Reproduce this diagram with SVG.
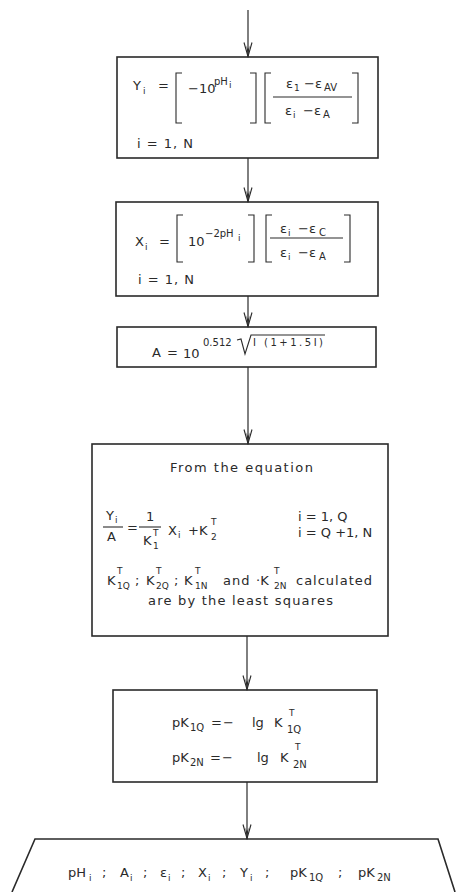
<svg xmlns="http://www.w3.org/2000/svg" width="460" height="892" viewBox="0 0 460 892">
<defs>
<marker id="ah" viewBox="0 0 16 10" refX="15.5" refY="5" markerWidth="16" markerHeight="10" orient="auto" markerUnits="userSpaceOnUse">
<path d="M1,1 L15,5 L1,9" fill="none" stroke="#2a2a2a" stroke-width="1.1"/>
<path d="M4,3.3 L15.5,5 L4,6.7 L8,5 Z" fill="#2a2a2a"/>
</marker>
</defs>
<style>
.box{fill:none;stroke:#2a2a2a;stroke-width:1.6}
.br{fill:none;stroke:#2a2a2a;stroke-width:1.1}
.ln{fill:none;stroke:#2a2a2a;stroke-width:1.1}
.edge{fill:none;stroke:#2a2a2a;stroke-width:1.2}
text{font-family:"DejaVu Sans","Liberation Sans",sans-serif;fill:#2a2a2a;font-size:13px}
.s{font-size:10px}
.ss{font-size:9px}
.l{letter-spacing:1px}
</style>
<rect width="460" height="892" fill="#ffffff"/>

<g id="connectors">
<line class="edge" x1="248" y1="10" x2="248" y2="57" marker-end="url(#ah)"/>
<line class="edge" x1="248" y1="158" x2="248" y2="202" marker-end="url(#ah)"/>
<line class="edge" x1="248" y1="296" x2="248" y2="327" marker-end="url(#ah)"/>
<line class="edge" x1="248" y1="367" x2="248" y2="444" marker-end="url(#ah)"/>
<line class="edge" x1="247" y1="636" x2="247" y2="690" marker-end="url(#ah)"/>
<line class="edge" x1="247" y1="782" x2="247" y2="839" marker-end="url(#ah)"/>
</g>

<g id="node-y">
<rect class="box" x="117" y="57" width="261" height="101"/>
<text x="133" y="90">Y</text><text class="ss" x="143" y="94">i</text>
<text x="158" y="90">=</text>
<path class="br" d="M182,73 H176 V123 H182"/>
<text x="188" y="93" font-size="12">−10</text>
<text class="s" x="214" y="85">pH</text><text class="ss" x="229" y="88">i</text>
<path class="br" d="M250,73 H256 V123 H250"/>
<path class="br" d="M271,73 H265 V123 H271"/>
<text x="286" y="88">ε</text><text class="ss" x="294" y="91">1</text>
<text x="304" y="88">−ε</text><text class="s" x="324" y="91">AV</text>
<line class="ln" x1="273" y1="97" x2="352" y2="97"/>
<text x="285" y="115">ε</text><text class="ss" x="293" y="118">i</text>
<text x="303" y="115">−ε</text><text class="s" x="323" y="118">A</text>
<path class="br" d="M352,73 H358 V123 H352"/>
<text x="137" y="148" class="l">i = 1, N</text>
</g>

<g id="node-x">
<rect class="box" x="116" y="202" width="262" height="94"/>
<text x="135" y="246">X</text><text class="ss" x="145" y="250">i</text>
<text x="159" y="246">=</text>
<path class="br" d="M183,215 H177 V262 H183"/>
<text x="188" y="246" font-size="12">10</text>
<text class="s" x="205" y="237">−2pH</text><text class="ss" x="238" y="241">i</text>
<path class="br" d="M248,215 H254 V262 H248"/>
<path class="br" d="M272,215 H266 V262 H272"/>
<text x="280" y="233">ε</text><text class="ss" x="288" y="236">i</text>
<text x="298" y="233">−ε</text><text class="s" x="319" y="236">C</text>
<line class="ln" x1="270" y1="238" x2="343" y2="238"/>
<text x="280" y="257">ε</text><text class="ss" x="288" y="260">i</text>
<text x="298" y="257">−ε</text><text class="s" x="319" y="260">A</text>
<path class="br" d="M344,215 H350 V262 H344"/>
<text x="138" y="284" class="l">i = 1, N</text>
</g>

<g id="node-a">
<rect class="box" x="117" y="327" width="259" height="40"/>
<text x="152" y="357">A</text>
<text x="167" y="357">=</text>
<text x="183" y="358" font-size="12">10</text>
<text class="s" x="203" y="346">0.512</text>
<path class="br" d="M237,340 L241,339 L245,354 L251,335 H325"/>
<text class="s" x="253" y="346" textLength="70" lengthAdjust="spacing">I (1+1.5I)</text>
</g>

<g id="node-eq">
<rect class="box" x="92" y="444" width="296" height="192"/>
<text x="170" y="472" textLength="143" lengthAdjust="spacing">From the equation</text>
<text x="106" y="520">Y</text><text class="ss" x="115" y="523">i</text>
<line class="ln" x1="103" y1="527" x2="123" y2="527"/>
<text x="107" y="541">A</text>
<text x="127" y="532">=</text>
<text x="146" y="521">1</text>
<line class="ln" x1="139" y1="527" x2="161" y2="527"/>
<text x="143" y="545">K</text><text class="ss" x="153" y="536">T</text><text class="ss" x="153" y="549">1</text>
<text x="168" y="535">X</text><text class="ss" x="178" y="538">i</text>
<text x="188" y="535">+K</text><text class="ss" x="211" y="525">T</text><text class="ss" x="211" y="540">2</text>
<text x="298" y="521">i = 1, Q</text>
<text x="298" y="537">i = Q +1, N</text>
<text x="107" y="585">K</text><text class="ss" x="117" y="574">T</text><text class="ss" x="117" y="589">1Q</text>
<text x="135" y="585">;</text>
<text x="146" y="585">K</text><text class="ss" x="156" y="574">T</text><text class="ss" x="156" y="589">2Q</text>
<text x="174" y="585">;</text>
<text x="184" y="585">K</text><text class="ss" x="195" y="574">T</text><text class="ss" x="195" y="589">1N</text>
<text x="223" y="585" class="l">and</text>
<text x="256" y="585">·K</text><text class="ss" x="274" y="574">T</text><text class="ss" x="274" y="589">2N</text>
<text x="296" y="585" textLength="76" lengthAdjust="spacing">calculated</text>
<text x="148" y="605" textLength="185" lengthAdjust="spacing">are by the least squares</text>
</g>

<g id="node-pk">
<rect class="box" x="113" y="690" width="264" height="92"/>
<text x="172" y="727">pK</text><text class="s" x="190" y="731">1Q</text>
<text x="211" y="727" class="l">=−</text>
<text x="252" y="727">lg</text>
<text x="274" y="727">K</text><text class="ss" x="289" y="716">T</text><text class="s" x="287" y="733">1Q</text>
<text x="172" y="762">pK</text><text class="s" x="190" y="766">2N</text>
<text x="210" y="762" class="l">=−</text>
<text x="257" y="762">lg</text>
<text x="280" y="762">K</text><text class="ss" x="295" y="750">T</text><text class="s" x="293" y="768">2N</text>
</g>

<g id="node-out">
<path class="box" d="M12,892 L35,839 H438 L455,892"/>
<text x="68" y="877">pH</text><text class="ss" x="89" y="881">i</text>
<text x="102" y="877">;</text>
<text x="120" y="877">A</text><text class="ss" x="130" y="881">i</text>
<text x="143" y="877">;</text>
<text x="160" y="877">ε</text><text class="ss" x="168" y="881">i</text>
<text x="181" y="877">;</text>
<text x="198" y="877">X</text><text class="ss" x="208" y="881">i</text>
<text x="222" y="877">;</text>
<text x="240" y="877">Y</text><text class="ss" x="250" y="881">i</text>
<text x="265" y="877">;</text>
<text x="290" y="877">pK</text><text class="s" x="309" y="881">1Q</text>
<text x="338" y="877">;</text>
<text x="358" y="877">pK</text><text class="s" x="377" y="881">2N</text>
</g>
</svg>
